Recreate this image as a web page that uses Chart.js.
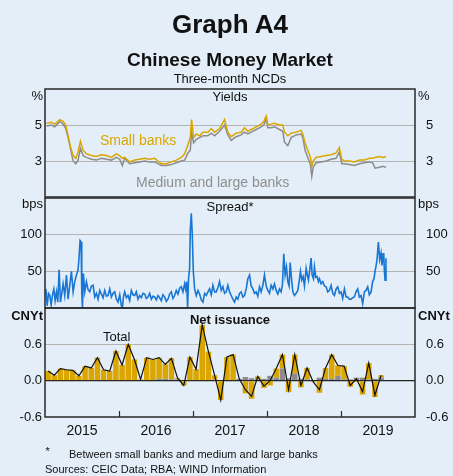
<!DOCTYPE html>
<html>
<head>
<meta charset="utf-8">
<script src="https://cdn.jsdelivr.net/npm/chart.js@4.4.1/dist/chart.umd.min.js"></script>
<style>
  html, body { margin: 0; padding: 0; background: #e3eef8; }
  body { width: 453px; height: 476px; position: relative; overflow: hidden;
         font-family: 'Liberation Sans', Arial, sans-serif; color: #111; }
  canvas { position: absolute; left: 0; top: 0; }
  .t { position: absolute; line-height: 1; white-space: nowrap; }
  .c { left: 0; width: 460px; text-align: center; }
  .l { right: 410px; text-align: right; }
  .r { left: 418px; }
</style>
</head>
<body>
<canvas id="yields" width="453" height="476"></canvas>
<canvas id="spread" width="453" height="476"></canvas>
<canvas id="issuance" width="453" height="476"></canvas>

<div class="t c" style="top:11px;font-size:26px;font-weight:bold">Graph A4</div>
<div class="t c" style="top:49.6px;font-size:19px;font-weight:bold">Chinese Money Market</div>
<div class="t c" style="top:72.3px;font-size:13px">Three-month NCDs</div>

<div class="t l" style="top:89px;font-size:13px">%</div>
<div class="t r" style="top:89px;font-size:13px">%</div>
<div class="t c" style="top:89.5px;font-size:13px">Yields</div>
<div class="t" style="left:100px;top:132.6px;font-size:14px;color:#dca600">Small banks</div>
<div class="t" style="left:136px;top:175px;font-size:14px;color:#8e8e8e">Medium and large banks</div>

<div class="t l" style="top:197px;font-size:13px">bps</div>
<div class="t r" style="top:197px;font-size:13px">bps</div>
<div class="t c" style="top:199.5px;font-size:13px">Spread*</div>

<div class="t l" style="top:309px;font-size:13px;font-weight:bold">CNYt</div>
<div class="t r" style="top:309px;font-size:13px;font-weight:bold">CNYt</div>
<div class="t c" style="top:312.5px;font-size:13px;font-weight:bold">Net issuance</div>
<div class="t" style="left:103px;top:330px;font-size:13px">Total</div>

<div class="t" style="left:45.5px;top:446px;font-size:11px">*</div>
<div class="t" style="left:69px;top:449px;font-size:11px">Between small banks and medium and large banks</div>
<div class="t" style="left:45px;top:464px;font-size:11px">Sources: CEIC Data; RBA; WIND Information</div>

<script>
/* ---------------- axes ---------------- */
const yearLabels = ['2015', '2016', '2017', '2018', '2019'];
const yearBreaks = [2016, 2017, 2018, 2019];

/* ---------------- yields (%), decimal years ---------------- */
const yieldDates = [
  2015.020, 2015.087, 2015.132, 2015.200, 2015.245, 2015.281, 2015.312, 2015.344, 2015.380, 2015.416,
  2015.447, 2015.479, 2015.515, 2015.560, 2015.627, 2015.695, 2015.762, 2015.830, 2015.897, 2015.965,
  2016.009, 2016.045, 2016.077, 2016.144, 2016.212, 2016.279, 2016.347, 2016.414, 2016.482, 2016.527,
  2016.572, 2016.639, 2016.707, 2016.774, 2016.842, 2016.887, 2016.932, 2016.963, 2016.981, 2017.008,
  2017.044, 2017.089, 2017.134, 2017.201, 2017.247, 2017.292, 2017.359, 2017.426, 2017.471, 2017.516,
  2017.584, 2017.651, 2017.696, 2017.741, 2017.786, 2017.854, 2017.921, 2017.957, 2017.989, 2018.011,
  2018.056, 2018.101, 2018.169, 2018.214, 2018.236, 2018.281, 2018.326, 2018.394, 2018.461, 2018.484,
  2018.515, 2018.551, 2018.587, 2018.605, 2018.623, 2018.663, 2018.731, 2018.798, 2018.866, 2018.933,
  2018.978, 2019.010, 2019.046, 2019.113, 2019.181, 2019.248, 2019.316, 2019.383, 2019.428, 2019.460,
  2019.518, 2019.563, 2019.608
];
const smallBankYields = [
  5.10, 5.15, 5.05, 5.30, 5.20, 5.00, 4.40, 3.80, 3.30, 3.15,
  3.50, 4.10, 3.60, 3.40, 3.30, 3.25, 3.35, 3.30, 3.20, 3.40,
  3.30, 3.15, 3.20, 2.95, 3.05, 3.10, 3.15, 3.10, 3.15, 3.00,
  2.85, 2.85, 2.95, 3.05, 3.20, 3.40, 3.90, 4.30, 5.30, 4.30,
  4.50, 4.40, 4.60, 4.60, 4.80, 4.60, 4.80, 5.30, 4.60, 4.35,
  4.55, 4.60, 4.85, 4.65, 4.75, 4.90, 5.05, 5.20, 5.50, 5.00,
  5.05, 5.10, 5.00, 5.00, 4.60, 4.40, 4.55, 4.60, 4.70, 4.50,
  4.00, 3.60, 3.20, 2.70, 3.00, 3.20, 3.25, 3.30, 3.35, 3.45,
  3.75, 3.10, 3.00, 3.00, 2.95, 3.05, 3.05, 3.15, 3.15, 3.20,
  3.25, 3.20, 3.25
];
const mediumLargeYields = [
  4.95, 5.00, 4.90, 5.20, 5.05, 4.80, 4.30, 3.70, 3.00, 2.85,
  3.05, 3.70, 3.30, 3.20, 3.10, 3.05, 3.15, 3.10, 3.05, 3.20,
  3.10, 2.75, 3.15, 2.85, 2.90, 2.95, 3.00, 2.95, 2.95, 2.85,
  2.75, 2.75, 2.80, 2.90, 3.00, 3.05, 3.45, 3.60, 4.60, 4.00,
  4.20, 4.30, 4.40, 4.40, 4.55, 4.40, 4.65, 5.00, 4.45, 4.15,
  4.35, 4.45, 4.60, 4.50, 4.60, 4.75, 4.90, 5.00, 5.35, 4.85,
  4.85, 4.90, 4.75, 4.65, 4.05, 3.85, 4.30, 4.45, 4.50, 4.30,
  3.60, 3.20, 2.80, 2.15, 2.65, 2.90, 2.95, 3.00, 3.10, 3.15,
  3.50, 2.85, 2.85, 2.80, 2.75, 2.85, 2.90, 2.95, 2.90, 2.60,
  2.65, 2.70, 2.65
];

/* ---------------- spread (bps) ---------------- */
const spreadDates = [
  2015.011, 2015.029, 2015.047, 2015.065, 2015.083, 2015.101, 2015.119, 2015.137, 2015.155, 2015.173,
  2015.191, 2015.209, 2015.227, 2015.245, 2015.267, 2015.290, 2015.312, 2015.335, 2015.357, 2015.380,
  2015.402, 2015.425, 2015.447, 2015.461, 2015.474, 2015.488, 2015.497, 2015.506, 2015.519, 2015.537,
  2015.560, 2015.582, 2015.605, 2015.627, 2015.650, 2015.672, 2015.695, 2015.717, 2015.740, 2015.762,
  2015.785, 2015.807, 2015.830, 2015.852, 2015.875, 2015.897, 2015.920, 2015.942, 2015.965, 2015.987,
  2016.010, 2016.032, 2016.046, 2016.060, 2016.077, 2016.100, 2016.122, 2016.144, 2016.167, 2016.190,
  2016.212, 2016.234, 2016.257, 2016.279, 2016.302, 2016.324, 2016.347, 2016.369, 2016.392, 2016.414,
  2016.437, 2016.459, 2016.482, 2016.504, 2016.527, 2016.549, 2016.572, 2016.594, 2016.617, 2016.639,
  2016.662, 2016.684, 2016.707, 2016.729, 2016.752, 2016.774, 2016.797, 2016.819, 2016.842, 2016.864,
  2016.887, 2016.900, 2016.914, 2016.927, 2016.940, 2016.954, 2016.963, 2016.977, 2016.990, 2017.004,
  2017.022, 2017.044, 2017.067, 2017.089, 2017.112, 2017.134, 2017.157, 2017.179, 2017.202, 2017.224,
  2017.247, 2017.269, 2017.292, 2017.314, 2017.337, 2017.359, 2017.382, 2017.404, 2017.427, 2017.449,
  2017.471, 2017.494, 2017.516, 2017.539, 2017.561, 2017.584, 2017.606, 2017.629, 2017.651, 2017.674,
  2017.696, 2017.719, 2017.741, 2017.764, 2017.786, 2017.809, 2017.831, 2017.854, 2017.876, 2017.899,
  2017.921, 2017.944, 2017.966, 2017.989, 2018.011, 2018.034, 2018.056, 2018.079, 2018.101, 2018.124,
  2018.146, 2018.169, 2018.191, 2018.209, 2018.227, 2018.245, 2018.263, 2018.281, 2018.299, 2018.313,
  2018.331, 2018.349, 2018.371, 2018.394, 2018.416, 2018.434, 2018.452, 2018.470, 2018.488, 2018.506,
  2018.529, 2018.547, 2018.560, 2018.578, 2018.596, 2018.610, 2018.628, 2018.641, 2018.659, 2018.677,
  2018.695, 2018.709, 2018.731, 2018.754, 2018.776, 2018.799, 2018.821, 2018.844, 2018.866, 2018.889,
  2018.911, 2018.934, 2018.956, 2018.979, 2019.001, 2019.023, 2019.046, 2019.068, 2019.091, 2019.113,
  2019.136, 2019.158, 2019.181, 2019.203, 2019.226, 2019.248, 2019.271, 2019.293, 2019.316, 2019.338,
  2019.361, 2019.383, 2019.406, 2019.428, 2019.446, 2019.460, 2019.473, 2019.487, 2019.505, 2019.523,
  2019.541, 2019.554, 2019.568, 2019.577, 2019.586, 2019.595, 2019.608
];
const spreadBps = [
  26, 3, 20, 17, 4, 18, 26, 10, 22, 8,
  52, 8, 20, 33, 17, 45, 12, 31, 50, 22,
  36, 45, 52, 70, 92, 90, 20, 0, 47, 22,
  36, 25, 22, 30, 31, 15, 20, 12, 24, 19,
  14, 24, 16, 17, 26, 15, 20, 22, 12, 8,
  18, 3, 0, 15, 22, 14, 17, 10, 24, 18,
  17, 22, 12, 17, 14, 20, 19, 13, 15, 20,
  12, 16, 15, 11, 17, 14, 10, 18, 15, 9,
  12, 19, 22, 13, 17, 24, 19, 27, 29, 22,
  33, 26, 36, 0, 40, 54, 105, 129, 100, 50,
  26, 17, 24, 19, 11, 8, 20, 17, 22, 26,
  18, 31, 22, 22, 28, 36, 24, 29, 20, 22,
  31, 22, 17, 12, 8, 15, 12, 20, 22, 15,
  17, 26, 40, 45, 30, 26, 20, 22, 16, 29,
  22, 31, 45, 30, 24, 20, 31, 26, 33, 24,
  19, 26, 22, 32, 74, 45, 56, 36, 30, 62,
  40, 22, 17, 20, 24, 36, 50, 38, 43, 30,
  54, 44, 38, 52, 68, 45, 40, 56, 42, 43,
  36, 40, 33, 36, 30, 29, 22, 24, 31, 20,
  17, 26, 29, 20, 22, 13, 26, 15, 15, 12,
  12, 14, 15, 22, 26, 15, 17, 6, 22, 24,
  29, 18, 22, 36, 40, 50, 57, 66, 90, 66,
  75, 58, 70, 75, 52, 38, 68
];

/* ---------------- net issuance (CNY trillion), monthly from Jan 2015 ---------------- */
const issuanceStartYear = 2015;
const totalIssuance = [
  0.16, 0.09, 0.20, 0.18, 0.17, 0.08, 0.24, 0.21, 0.38, 0.18, 0.16, 0.49,
  0.26, 0.60, 0.35, 0.02, 0.38, 0.35, 0.38, 0.27, 0.37, 0.04, -0.08, 0.39,
  0.19, 0.92, 0.48, 0.09, -0.32, 0.39, 0.43, 0.03, -0.15, -0.26, 0.07, -0.09,
  0.00, 0.20, 0.43, -0.15, 0.43, -0.08, 0.21, -0.02, -0.15, 0.21, 0.43, 0.25,
  0.24, -0.08, 0.03, -0.18, 0.29, -0.24, 0.09
];
const mediumLargeIssuance = [
  0, 0, 0, 0, 0, 0, 0, 0, 0, 0, 0, 0,
  0, 0, 0, 0, 0, 0.01, 0.03, 0.03, 0.02, 0.02, 0, 0,
  0, 0, 0, 0.02, 0, 0, 0, 0.03, 0.06, 0.04, 0.02, 0.03,
  0.08, 0.05, 0.20, 0.04, 0.12, 0.03, 0.02, 0, 0.05, 0.03, 0.03, 0.08,
  0.02, 0.02, 0.05, 0.05, 0.02, 0.03, 0.05
];
const smallIssuance = [
  0.16, 0.09, 0.20, 0.18, 0.17, 0.08, 0.24, 0.21, 0.38, 0.18, 0.16, 0.49,
  0.26, 0.60, 0.35, 0.02, 0.38, 0.34, 0.35, 0.24, 0.35, 0.02, -0.08, 0.39,
  0.19, 0.92, 0.48, 0.07, -0.32, 0.39, 0.43, 0, -0.21, -0.30, 0.05, -0.12,
  -0.08, 0.15, 0.23, -0.19, 0.31, -0.11, 0.19, -0.02, -0.20, 0.18, 0.40, 0.17,
  0.22, -0.10, -0.02, -0.23, 0.27, -0.27, 0.04
];
const issuanceDates = totalIssuance.map((_, i) => issuanceStartYear + (i + 0.5) / 12);

/* ---------------- colours ---------------- */
const YELLOW = '#dca600';
const GREY = '#8c8c8c';
const BLUE = '#1976d2';
const FRAME = '#2a2a2a';
const GRID = '#b4b4b4';

Chart.defaults.font.family = "'Liberation Sans', Arial, sans-serif";
Chart.defaults.font.size = 13;
Chart.defaults.color = '#111';
Chart.defaults.animation = false;

const pts = (xs, ys) => xs.map((x, i) => ({ x, y: ys[i] }));

/* frame round each panel + year tick marks */
const framePlugin = {
  id: 'frame',
  afterDatasetsDraw(chart, args, opts) {
    const { ctx, chartArea: a } = chart;
    ctx.save();
    ctx.strokeStyle = FRAME;
    ctx.lineWidth = 1.5;
    ctx.strokeRect(a.left, a.top, a.right - a.left, a.bottom - a.top);
    if (opts.yearTicks) {
      const xs = chart.scales.x;
      ctx.lineWidth = 1.2;
      ctx.beginPath();
      yearBreaks.forEach(v => {
        const px = Math.round(xs.getPixelForValue(v)) + 0.5;
        ctx.moveTo(px, a.bottom);
        ctx.lineTo(px, a.bottom - 6);
      });
      ctx.stroke();
    }
    ctx.restore();
  }
};

function xAxis(show) {
  const axis = {
    type: 'linear', min: 2015, max: 2020, display: show, offset: false, stacked: true,
    afterBuildTicks: s => { s.ticks = yearLabels.map(y => ({ value: Number(y) + 0.5 })); },
    grid: { display: false, drawTicks: false },
    border: { display: false },
    ticks: { padding: 6, font: { size: 14 }, maxRotation: 0, autoSkip: false,
             callback: (v, i) => yearLabels[i] }
  };
  if (show) axis.afterFit = s => { s.height = 28; };
  return axis;
}

function yAxes(min, max, values, shown, fmt, gridStyle, stacked) {
  const ticks = { padding: 3, autoSkip: false, color: '#111',
                  callback: v => shown.includes(v) ? fmt(v) : '' };
  const build = s => { s.ticks = values.map(v => ({ value: v })); };
  return {
    y: {
      min, max, stacked, position: 'left', afterBuildTicks: build, ticks,
      afterFit: s => { s.width = 45; },
      border: { display: false },
      grid: { drawTicks: false,
              color: c => gridStyle(c.tick.value)[0],
              lineWidth: c => gridStyle(c.tick.value)[1] }
    },
    y2: {
      min, max, position: 'right', afterBuildTicks: build, ticks,
      afterFit: s => { s.width = 38; },
      border: { display: false },
      grid: { display: false }
    }
  };
}

function baseOptions(padTop, padBottom, scales, yearTicks) {
  return {
    responsive: false,
    layout: { padding: { top: padTop, bottom: padBottom, left: 0, right: 0 } },
    plugins: { legend: { display: false }, tooltip: { enabled: false }, frame: { yearTicks } },
    scales
  };
}

/* ---------------- Yields ---------------- */
new Chart(document.getElementById('yields'), {
  type: 'line',
  data: {
    datasets: [
      { data: pts(yieldDates, smallBankYields), borderColor: YELLOW, borderWidth: 1.5, pointRadius: 0, tension: 0 },
      { data: pts(yieldDates, mediumLargeYields), borderColor: GREY, borderWidth: 1.5, pointRadius: 0, tension: 0 }
    ]
  },
  options: baseOptions(89, 476 - 197, {
    x: xAxis(false),
    ...yAxes(1, 7, [1, 3, 5, 7], [3, 5], v => String(v),
             v => (v === 3 || v === 5) ? [GRID, 1] : ['rgba(0,0,0,0)', 0], false)
  }, false),
  plugins: [framePlugin]
});

/* ---------------- Spread ---------------- */
new Chart(document.getElementById('spread'), {
  type: 'line',
  data: {
    datasets: [
      { data: pts(spreadDates, spreadBps), borderColor: BLUE, borderWidth: 1.6, pointRadius: 0, tension: 0 }
    ]
  },
  options: baseOptions(198, 476 - 308, {
    x: xAxis(false),
    ...yAxes(0, 150, [0, 50, 100, 150], [50, 100], v => String(v),
             v => (v === 50 || v === 100) ? [GRID, 1] : ['rgba(0,0,0,0)', 0], false)
  }, false),
  plugins: [framePlugin]
});

/* ---------------- Net issuance ---------------- */
new Chart(document.getElementById('issuance'), {
  type: 'bar',
  data: {
    datasets: [
      { type: 'line', order: 0, stack: 'total', data: pts(issuanceDates, totalIssuance),
        borderColor: '#111', borderWidth: 1.2, pointRadius: 0, tension: 0 },
      { type: 'bar', order: 1, stack: 'iss', data: pts(issuanceDates, mediumLargeIssuance),
        backgroundColor: GREY, categoryPercentage: 1, barPercentage: 0.9 },
      { type: 'bar', order: 1, stack: 'iss', data: pts(issuanceDates, smallIssuance),
        backgroundColor: YELLOW, categoryPercentage: 1, barPercentage: 0.9 }
    ]
  },
  options: baseOptions(308, 476 - 417 - 28, {
    x: xAxis(true),
    ...yAxes(-0.6, 1.2, [-0.6, 0, 0.6, 1.2], [-0.6, 0, 0.6], v => v.toFixed(1),
             v => v === 0 ? ['#222', 1.2] : (v === 0.6 ? [GRID, 1] : ['rgba(0,0,0,0)', 0]), true)
  }, true),
  plugins: [framePlugin]
});
</script>
</body>
</html>
